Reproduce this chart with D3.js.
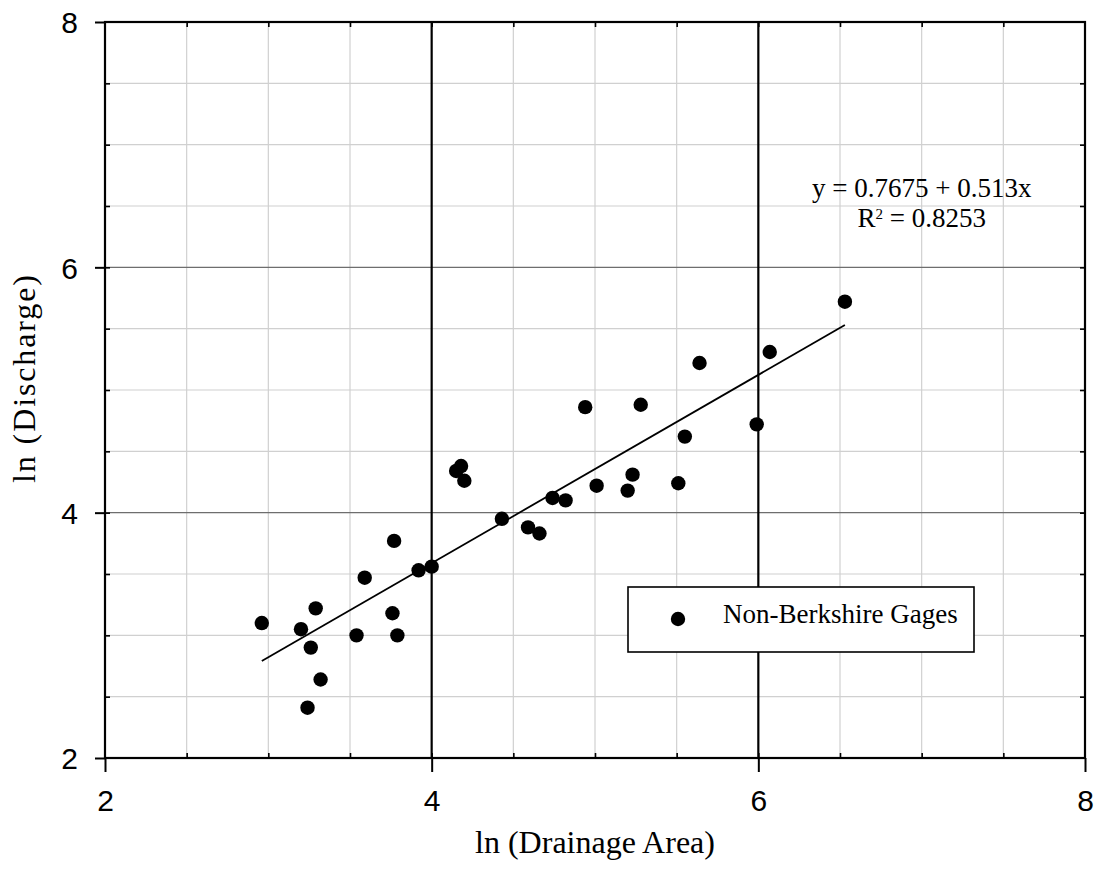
<!DOCTYPE html>
<html>
<head>
<meta charset="utf-8">
<script src="https://cdn.jsdelivr.net/npm/d3@7"></script>
<style>
  body { margin: 0; background: #fff; }
  svg { display: block; }
  .tick text { font-family: "Liberation Sans", Arial, sans-serif; }
</style>
</head>
<body>
<svg id="chart" width="1098" height="875"></svg>
<script>
// points: ln(drainage area), ln(discharge)
var lnArea = [2.96, 3.20, 3.29, 3.26, 3.32, 3.24, 3.54, 3.59, 3.76, 3.79, 3.77, 3.92, 4.00,
              4.15, 4.18, 4.20, 4.43, 4.59, 4.66, 4.74, 4.82, 4.94, 5.01, 5.20, 5.23, 5.28,
              5.51, 5.55, 5.64, 5.99, 6.07, 6.53];
var lnQ = [3.10, 3.05, 3.22, 2.90, 2.64, 2.41, 3.00, 3.47, 3.18, 3.00, 3.77, 3.53, 3.56,
           4.34, 4.38, 4.26, 3.95, 3.88, 3.83, 4.12, 4.10, 4.86, 4.22, 4.18, 4.31, 4.88,
           4.24, 4.62, 5.22, 4.72, 5.31, 5.72];
// fitted line end points as drawn
var fitX = [2.96, 6.53];
var fitY = [2.79, 5.53];
var majorTicks = [2, 4, 6, 8];
var minorTicks = d3.range(2.5, 8, 0.5);

var margin = {top: 22, right: 13, bottom: 117, left: 105},
    width = 1098 - margin.left - margin.right,
    height = 875 - margin.top - margin.bottom;

var svg = d3.select('#chart');
var g = svg.append('g')
    .attr('transform', 'translate(' + margin.left + ',' + margin.top + ')');

var x = d3.scaleLinear().domain([2, 8]).range([0, width]);
var y = d3.scaleLinear().domain([2, 8]).range([height, 0]);

// minor grid
g.selectAll('.vgrid').data(minorTicks.filter(function(d) { return d % 2 != 0; }))
  .enter().append('line')
    .attr('x1', function(d) { return x(d); }).attr('x2', function(d) { return x(d); })
    .attr('y1', 0).attr('y2', height)
    .attr('stroke', '#d0d0d0').attr('stroke-width', 1.2);
g.selectAll('.hgrid').data(minorTicks.filter(function(d) { return d % 2 != 0; }))
  .enter().append('line')
    .attr('y1', function(d) { return y(d); }).attr('y2', function(d) { return y(d); })
    .attr('x1', 0).attr('x2', width)
    .attr('stroke', '#d0d0d0').attr('stroke-width', 1.2);

// major grid
g.selectAll('.hmajor').data([4, 6])
  .enter().append('line')
    .attr('y1', function(d) { return y(d); }).attr('y2', function(d) { return y(d); })
    .attr('x1', 0).attr('x2', width)
    .attr('stroke', '#6e6e6e').attr('stroke-width', 1.2);
g.selectAll('.vmajor').data([4, 6])
  .enter().append('line')
    .attr('x1', function(d) { return x(d); }).attr('x2', function(d) { return x(d); })
    .attr('y1', 0).attr('y2', height)
    .attr('stroke', '#000').attr('stroke-width', 2.2);

// axes: outer major ticks + labels
var xAxis = g.append('g').attr('transform', 'translate(0,' + height + ')')
  .call(d3.axisBottom(x).tickValues(majorTicks).tickSize(14).tickPadding(18).tickFormat(d3.format('d')));
var yAxis = g.append('g')
  .call(d3.axisLeft(y).tickValues(majorTicks).tickSize(10).tickPadding(17).tickFormat(d3.format('d')));
[xAxis, yAxis].forEach(function(a) {
  a.select('.domain').remove();
  a.selectAll('.tick line').attr('stroke', '#000').attr('stroke-width', 2);
  a.selectAll('.tick text').attr('font-size', 30).attr('fill', '#000');
});
yAxis.selectAll('.tick text').attr('dy', '0.36em');

// inner minor ticks on all four sides
function minor(axis, size, transform) {
  var a = g.append('g').attr('transform', transform || null)
    .call(axis.tickValues(minorTicks).tickSize(size).tickFormat(''));
  a.select('.domain').remove();
  a.selectAll('.tick line').attr('stroke', '#000').attr('stroke-width', 1.6);
}
minor(d3.axisBottom(x), -5, 'translate(0,' + height + ')');
minor(d3.axisTop(x), -5);
minor(d3.axisLeft(y), -5);
minor(d3.axisRight(y), -5, 'translate(' + width + ',0)');

// frame
g.append('rect').attr('width', width).attr('height', height)
  .attr('fill', 'none').attr('stroke', '#000').attr('stroke-width', 2.2);

// fit line
var line = d3.line().x(function(d) { return x(d[0]); }).y(function(d) { return y(d[1]); });
g.append('path').datum(d3.zip(fitX, fitY))
  .attr('d', line).attr('fill', 'none').attr('stroke', '#000').attr('stroke-width', 1.8);

// points
g.selectAll('circle.pt').data(d3.zip(lnArea, lnQ))
  .enter().append('circle')
    .attr('class', 'pt')
    .attr('cx', function(d) { return x(d[0]); })
    .attr('cy', function(d) { return y(d[1]); })
    .attr('r', 7.2)
    .attr('fill', '#000');

// regression text
var serif = '"Liberation Serif", "Times New Roman", serif';
g.append('text').attr('x', x(7.0)).attr('y', y(6.57))
  .attr('text-anchor', 'middle').attr('font-family', serif).attr('font-size', 27)
  .text('y = 0.7675 + 0.513x');
var r2 = g.append('text').attr('x', x(7.0)).attr('y', y(6.33))
  .attr('text-anchor', 'middle').attr('font-family', serif).attr('font-size', 27);
r2.append('tspan').text('R');
r2.append('tspan').attr('font-size', 15).attr('dy', -8).text('2');
r2.append('tspan').attr('dy', 8).text(' = 0.8253');

// legend
var leg = g.append('g').attr('transform', 'translate(' + (628 - margin.left) + ',' + (587 - margin.top) + ')');
leg.append('rect').attr('width', 346).attr('height', 65)
  .attr('fill', '#fff').attr('stroke', '#000').attr('stroke-width', 1.6);
leg.append('circle').attr('cx', 50).attr('cy', 32).attr('r', 7.2).attr('fill', '#000');
leg.append('text').attr('x', 95).attr('y', 36)
  .attr('font-family', serif).attr('font-size', 27).text('Non-Berkshire Gages');

// axis titles
svg.append('text').attr('x', 595).attr('y', 853)
  .attr('text-anchor', 'middle').attr('font-family', serif).attr('font-size', 32)
  .text('ln (Drainage Area)');
svg.append('text').attr('transform', 'translate(35,379) rotate(-90)')
  .attr('text-anchor', 'middle').attr('font-family', serif).attr('font-size', 32)
  .attr('textLength', 208).attr('lengthAdjust', 'spacing')
  .text('ln (Discharge)');
</script>
</body>
</html>
